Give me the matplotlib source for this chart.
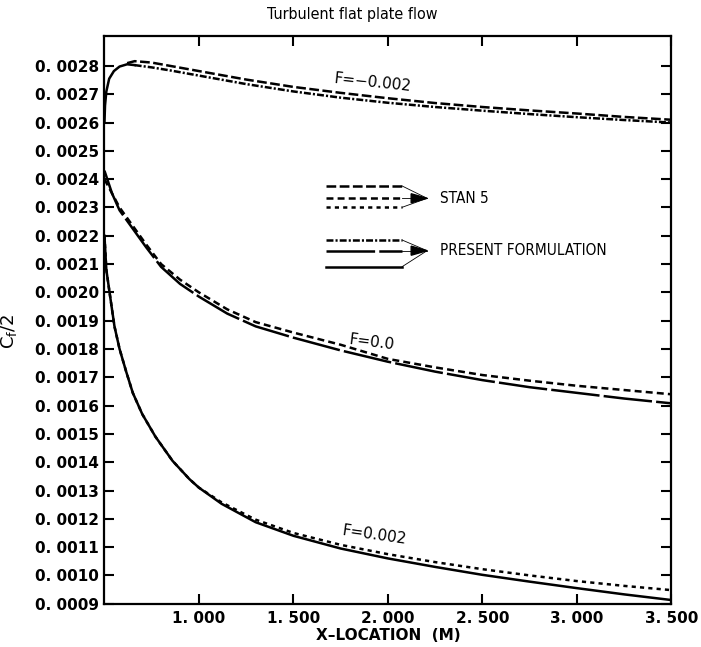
import matplotlib
matplotlib.use("Agg")
import matplotlib.pyplot as plt
import numpy as np
from matplotlib.patches import Polygon

plt.rcParams["lines.scale_dashes"] = False

# F = -0.002
x_neg_present = [0.50, 0.503, 0.51, 0.525, 0.55, 0.58, 0.62, 0.66, 0.75, 0.85, 1.00,
                 1.25, 1.50, 1.75, 2.00, 2.25, 2.50, 2.75, 3.00, 3.25, 3.50]
cf_neg_present = [0.00260, 0.00266, 0.00271, 0.002755, 0.002782, 0.002798, 0.002806,
                  0.002803, 0.002795, 0.002784, 0.002766, 0.002736, 0.002710, 0.002688,
                  0.002670, 0.002655, 0.002642, 0.002630, 0.002619, 0.002609, 0.002600]
x_neg_stan = [0.62, 0.66, 0.75, 0.85, 1.00, 1.25, 1.50, 1.75, 2.00, 2.25, 2.50,
              2.75, 3.00, 3.25, 3.50]
cf_neg_stan = [0.002810, 0.002817, 0.002812, 0.002800, 0.002782, 0.002752, 0.002726,
               0.002705, 0.002686, 0.002669, 0.002655, 0.002643, 0.002632, 0.002620,
               0.002610]

# F = 0.0
x_zero = [0.50, 0.54, 0.58, 0.65, 0.72, 0.80, 0.90, 1.00, 1.15, 1.30, 1.50, 1.75,
          2.00, 2.25, 2.50, 2.75, 3.00, 3.25, 3.50]
cf_zero_present = [0.00243, 0.00235, 0.00229, 0.002225, 0.00216, 0.00209, 0.00203,
                   0.001985, 0.001925, 0.00188, 0.00184, 0.001795, 0.001755, 0.00172,
                   0.00169, 0.001665, 0.001645, 0.001625, 0.001608]
cf_zero_stan = [0.00240, 0.00235, 0.00230, 0.002235, 0.00217, 0.00210, 0.002045,
                0.00200, 0.00194, 0.001895, 0.001858, 0.001815, 0.001765, 0.001735,
                0.001708, 0.001688, 0.00167, 0.001655, 0.00164]

# F = 0.002
x_pos = [0.50, 0.51, 0.527, 0.553, 0.58, 0.615, 0.65, 0.70, 0.77, 0.86, 0.95, 1.00,
         1.12, 1.30, 1.50, 1.75, 2.00, 2.25, 2.50, 2.75, 3.00, 3.25, 3.50]
cf_pos_present = [0.00220, 0.00208, 0.00200, 0.00188, 0.00180, 0.00172, 0.001645,
                  0.00157, 0.00149, 0.001405, 0.00134, 0.00131, 0.001253, 0.001188,
                  0.00114, 0.001095, 0.00106, 0.00103, 0.001002, 0.000978, 0.000955,
                  0.000933, 0.000913]
cf_pos_stan = [0.00220, 0.00208, 0.00200, 0.00188, 0.00180, 0.00172, 0.001645,
               0.00157, 0.00149, 0.001405, 0.00134, 0.00131, 0.001258, 0.001197,
               0.00115, 0.001108, 0.001075, 0.001047, 0.001022, 0.001000, 0.00098,
               0.000963, 0.000948]

x_ticks = [1.0, 1.5, 2.0, 2.5, 3.0, 3.5]
y_ticks = np.arange(9, 29) * 1e-4
curve_labels = ["F=\u22120.002", "F=0.0", "F=0.002"]

NARROW = ["Liberation Sans Narrow", "DejaVu Sans"]
LW = 1.8
NEG_STAN = dict(dashes=(7, 2.5))
NEG_PRES = dict(dashes=(5, 1.5, 1.5, 1.5))
ZERO_STAN = dict(dashes=(5, 3))
ZERO_PRES = dict(dashes=(35, 3))
POS_STAN = dict(dashes=(3, 3))
POS_PRES = dict()


def draw_key(ax, rows, styles, text):
    x0, x1, tip = 0.391, 0.525, 0.569
    ymid = rows[1]
    for y, st in zip(rows, styles):
        ax.plot([x0, x1], [y, y], transform=ax.transAxes, color="black", lw=LW, **st)
        ax.plot([x1, tip], [y, ymid], transform=ax.transAxes, color="black", lw=0.6)
    ax.add_patch(Polygon([(0.541, ymid + 0.008), (0.541, ymid - 0.008), (tip, ymid)],
                         closed=True, transform=ax.transAxes, color="black"))
    ax.text(0.592, ymid, text, transform=ax.transAxes, va="center", ha="left",
            fontsize=11, family=NARROW, fontstretch="condensed")


fig = plt.figure(figsize=(7.01, 6.47), dpi=100)
ax = fig.add_axes([0.149, 0.0669, 0.8088, 0.8775])

ax.plot(x_neg_stan, cf_neg_stan, color="black", lw=LW, **NEG_STAN)
ax.plot(x_neg_present[:8], cf_neg_present[:8], color="black", lw=LW)
ax.plot(x_neg_present[7:], cf_neg_present[7:], color="black", lw=LW, **NEG_PRES)
ax.plot(x_zero, cf_zero_stan, color="black", lw=LW, **ZERO_STAN)
ax.plot(x_zero, cf_zero_present, color="black", lw=LW, **ZERO_PRES)
ax.plot(x_pos, cf_pos_stan, color="black", lw=LW, **POS_STAN)
ax.plot(x_pos, cf_pos_present, color="black", lw=LW, **POS_PRES)

for txt, (lx, ly, rot) in zip(curve_labels, [(1.92, 0.002743, -6),
                                             (1.915, 0.001825, -7),
                                             (1.926, 0.001143, -8)]):
    ax.text(lx, ly, txt, ha="center", va="center", rotation=rot,
            rotation_mode="anchor", fontsize=11)

draw_key(ax, [0.7358, 0.7141, 0.6982], [NEG_STAN, ZERO_STAN, POS_STAN], "STAN 5")
draw_key(ax, [0.6406, 0.6218, 0.5936], [NEG_PRES, ZERO_PRES, POS_PRES],
         "PRESENT FORMULATION")

ax.set_xlim(0.5, 3.5)
ax.set_ylim(0.0009, 0.002906)
ax.set_xticks(x_ticks, labels=[f"{v:.3f}".replace(".", ". ") for v in x_ticks],
              fontsize=11, fontweight="bold")
ax.set_yticks(y_ticks, labels=[f"0. {round(v * 1e4):04d}" for v in y_ticks],
              fontsize=11, fontweight="bold")
ax.tick_params(direction="in", top=True, right=True, length=7.5, width=1.5)
ax.tick_params(axis="x", pad=5)
ax.tick_params(axis="y", pad=4)
for sp in ax.spines.values():
    sp.set_linewidth(1.6)

ax.set_xlabel("X\u2013LOCATION  (M)", fontsize=11, fontweight="bold", labelpad=2)
ax.set_ylabel(r"$\mathregular{C_f/2}$", fontsize=13)
ax.yaxis.set_label_coords(-0.15, 0.48)

fig.text(0.502, 1 - 14 / 647, "Turbulent flat plate flow", ha="center", va="center",
         fontsize=11.5, family=NARROW, fontstretch="condensed")

fig.savefig("out.png", dpi=100)
